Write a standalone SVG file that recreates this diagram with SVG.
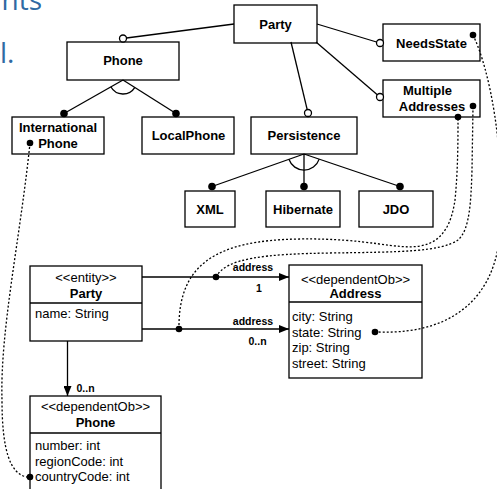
<svg xmlns="http://www.w3.org/2000/svg" width="497" height="489" viewBox="0 0 497 489">
<defs>
<style>
.box{fill:#fff;stroke:#000;stroke-width:1.3}
.ln{fill:none;stroke:#000;stroke-width:1.3}
.dot{fill:none;stroke:#000;stroke-width:1.3;stroke-dasharray:2 2}
.fd{fill:#000}
.oc{fill:#fff;stroke:#000;stroke-width:1.3}
.t{font-family:"Liberation Sans",Arial,sans-serif;font-size:13px;fill:#000}
.b{font-weight:bold}
.m{text-anchor:middle}
.s{font-family:"Liberation Sans",Arial,sans-serif;font-size:10.5px;font-weight:bold;fill:#000;text-anchor:middle}
.bg{font-family:"Open Sans","Liberation Sans",sans-serif;font-size:28px;fill:#2f6aa3}
</style>
<marker id="arr" viewBox="0 0 10 8" refX="10" refY="4" markerWidth="10" markerHeight="8" markerUnits="userSpaceOnUse" orient="auto">
<path d="M0,0 L10,4 L0,8 Z" fill="#000"/>
</marker>
</defs>
<rect width="497" height="489" fill="#fff"/>
<text class="bg" x="42" y="10" text-anchor="end">nts</text>
<text class="bg" x="0" y="63">l.</text>

<g id="party">
<rect class="box" x="234" y="5" width="83" height="38"/>
<text class="t b m" x="275.5" y="29">Party</text>
</g>
<g id="phone">
<rect class="box" x="67" y="42" width="112" height="38"/>
<text class="t b m" x="123" y="65">Phone</text>
</g>
<g id="needsstate">
<rect class="box" x="383" y="24" width="97" height="37"/>
<text class="t b m" x="431.5" y="48">NeedsState</text>
</g>
<g id="multipleaddresses">
<rect class="box" x="383" y="80" width="97" height="37"/>
<text class="t b m" x="427.5" y="95">Multiple</text>
<text class="t b m" x="432" y="111">Addresses</text>
</g>
<g id="internationalphone">
<rect class="box" x="12" y="117" width="92" height="37"/>
<text class="t b m" x="58" y="132">International</text>
<text class="t b m" x="58" y="148">Phone</text>
</g>
<g id="localphone">
<rect class="box" x="142" y="117" width="92" height="37"/>
<text class="t b m" x="188.5" y="140">LocalPhone</text>
</g>
<g id="persistence">
<rect class="box" x="251" y="117" width="106" height="37"/>
<text class="t b m" x="304" y="140">Persistence</text>
</g>
<g id="xml">
<rect class="box" x="185" y="191" width="50" height="36"/>
<text class="t b m" x="210" y="214">XML</text>
</g>
<g id="hibernate">
<rect class="box" x="266" y="191" width="74" height="36"/>
<text class="t b m" x="303" y="214">Hibernate</text>
</g>
<g id="jdo">
<rect class="box" x="359" y="191" width="74" height="36"/>
<text class="t b m" x="396" y="214">JDO</text>
</g>

<g id="party-class">
<rect class="box" x="30" y="266" width="112" height="75"/>
<line class="ln" x1="30" y1="303" x2="142" y2="303"/>
<text class="t m" x="86" y="282">&lt;&lt;entity&gt;&gt;</text>
<text class="t b m" x="86" y="297.5">Party</text>
<text class="t" x="35" y="318">name: String</text>
</g>
<g id="address-class">
<rect class="box" x="289" y="265" width="133" height="113"/>
<line class="ln" x1="289" y1="302" x2="422" y2="302"/>
<text class="t m" x="355.5" y="284">&lt;&lt;dependentOb&gt;&gt;</text>
<text class="t b m" x="355.5" y="297.5">Address</text>
<text class="t" x="292" y="321">city: String</text>
<text class="t" x="292" y="336.5">state: String</text>
<text class="t" x="292" y="352">zip: String</text>
<text class="t" x="292" y="367.5">street: String</text>
</g>
<g id="phone-class">
<rect class="box" x="30" y="396" width="131" height="100"/>
<line class="ln" x1="30" y1="433" x2="161" y2="433"/>
<text class="t m" x="95.5" y="411">&lt;&lt;dependentOb&gt;&gt;</text>
<text class="t b m" x="95.5" y="427">Phone</text>
<text class="t" x="35" y="450">number: int</text>
<text class="t" x="35" y="465.5">regionCode: int</text>
<text class="t" x="35" y="481">countryCode: int</text>
</g>

<g id="connectors">
<line class="ln" x1="234" y1="24" x2="126.4" y2="38"/>
<circle class="oc" cx="123" cy="38.5" r="3.5"/>
<line class="ln" x1="317" y1="24" x2="376.5" y2="42"/>
<circle class="oc" cx="380" cy="43" r="3.5"/>
<line class="ln" x1="316" y1="42" x2="377.3" y2="94.8"/>
<circle class="oc" cx="380" cy="97" r="3.5"/>
<line class="ln" x1="291" y1="42" x2="307.2" y2="109.6"/>
<circle class="oc" cx="308" cy="113" r="3.5"/>

<line class="ln" x1="123" y1="80" x2="64" y2="113.5"/>
<line class="ln" x1="123" y1="80" x2="176" y2="113.5"/>
<path class="ln" d="M110.8,86.8 A14,14 0 0 0 134.9,87.4"/>
<circle class="fd" cx="64" cy="113.5" r="3.8"/>
<circle class="fd" cx="176" cy="113.5" r="3.8"/>

<line class="ln" x1="304" y1="154" x2="212" y2="186.5"/>
<line class="ln" x1="304" y1="154" x2="304" y2="186.5"/>
<line class="ln" x1="304" y1="154" x2="400" y2="186.5"/>
<path class="ln" d="M288.9,159.3 A16,16 0 0 0 319.2,159.1"/>
<circle class="fd" cx="212" cy="186.5" r="3.8"/>
<circle class="fd" cx="304" cy="186.5" r="3.8"/>
<circle class="fd" cx="400" cy="186.5" r="3.8"/>

<line class="ln" x1="142" y1="277" x2="289" y2="277" marker-end="url(#arr)"/>
<line class="ln" x1="142" y1="329" x2="289" y2="329" marker-end="url(#arr)"/>
<line class="ln" x1="67.5" y1="341" x2="67.5" y2="396" marker-end="url(#arr)"/>
<text class="s" x="253" y="271">address</text>
<text class="s" x="259" y="292">1</text>
<text class="s" x="253" y="325">address</text>
<text class="s" x="257.5" y="345">0..n</text>
<text class="s" x="85.5" y="392">0..n</text>

<path class="dot" d="M30,143 C20,240 0,330 2,400 C2,450 10,474 27,477"/>
<path class="dot" d="M473,35 C490,70 505,150 500,230 C497,290 460,335 378,332"/>
<path class="dot" d="M179,329 C178,265 215,240 300,239 C370,238 395,250 420,246 C445,242 452,220 455,200 C458,170 458,140 458,117"/>
<path class="dot" d="M216,277 C226,258 265,254 330,253 C400,252 440,252 458,240 C470,230 471,200 472,170 L473,107"/>
<circle class="fd" cx="216" cy="277" r="3.3"/>
<circle class="fd" cx="179" cy="329" r="3.3"/>
<circle class="fd" cx="473" cy="35" r="3.3"/>
<circle class="fd" cx="473" cy="106" r="3.3"/>
<circle class="fd" cx="458" cy="117" r="3.3"/>
<circle class="fd" cx="30" cy="143" r="3.3"/>
<circle class="fd" cx="375" cy="332" r="3.3"/>
<circle class="fd" cx="30" cy="477" r="3.3"/>
</g>
</svg>
